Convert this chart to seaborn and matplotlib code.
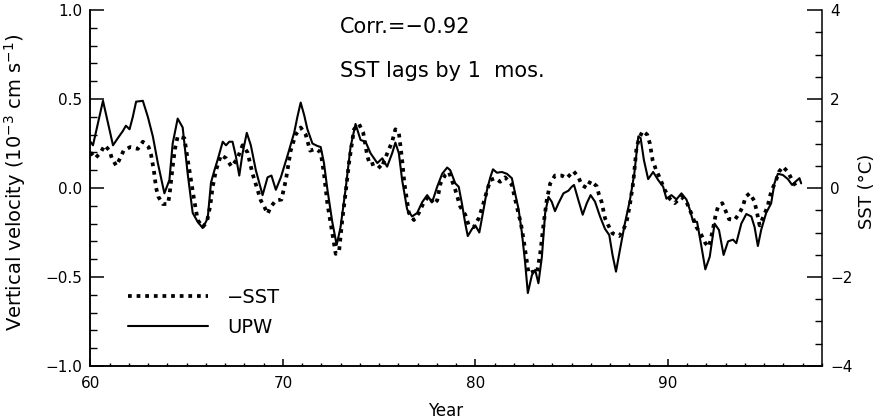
import matplotlib
matplotlib.use("Agg")
import matplotlib.pyplot as plt
import seaborn as sns
from matplotlib.ticker import MultipleLocator

# UPW vertical velocity (1e-3 cm/s)
upw_year = [60.00, 60.13, 60.65, 61.17, 61.42, 61.68, 61.84, 62.03, 62.20, 62.37,
            62.72, 62.98, 63.24, 63.50, 63.84, 64.10, 64.27, 64.53, 64.79, 65.05,
            65.31, 65.57, 65.83, 66.09, 66.26, 66.44, 66.61, 66.87, 67.04, 67.21,
            67.38, 67.55, 67.73, 67.90, 68.12, 68.33, 68.59, 68.94, 69.20, 69.40,
            69.63, 69.89, 70.23, 70.58, 70.75, 70.92, 71.10, 71.27, 71.53, 71.79,
            71.96, 72.13, 72.31, 72.56, 72.79, 72.99, 73.25, 73.51, 73.77, 74.03,
            74.29, 74.55, 74.90, 75.16, 75.41, 75.67, 75.84, 76.02, 76.19, 76.45,
            76.71, 76.97, 77.23, 77.49, 77.75, 78.01, 78.27, 78.53, 78.69, 78.95,
            79.13, 79.30, 79.47, 79.60, 79.82, 79.99, 80.20, 80.42, 80.60, 80.77,
            80.91, 81.11, 81.37, 81.63, 81.89, 82.06, 82.24, 82.41, 82.58, 82.72,
            82.93, 83.10, 83.27, 83.45, 83.62, 83.79, 83.96, 84.13, 84.31, 84.57,
            84.83, 85.00, 85.12, 85.35, 85.57, 85.78, 85.98, 86.21, 86.47, 86.73,
            86.95, 87.12, 87.30, 87.50, 87.76, 88.02, 88.25, 88.46, 88.58, 88.75,
            88.97, 89.23, 89.49, 89.75, 89.92, 90.18, 90.44, 90.70, 90.96, 91.13,
            91.31, 91.51, 91.74, 91.94, 92.17, 92.42, 92.65, 92.89, 93.12, 93.38,
            93.55, 93.81, 94.07, 94.33, 94.50, 94.67, 94.84, 95.10, 95.36, 95.53,
            95.71, 95.97, 96.23, 96.45, 96.62, 96.83, 96.92]
upw = [0.26, 0.24, 0.49, 0.24, 0.28, 0.32, 0.35, 0.33, 0.40, 0.485,
       0.49, 0.40, 0.29, 0.14, -0.03, 0.045, 0.25, 0.39, 0.34, 0.08,
       -0.14, -0.19, -0.225, -0.17, 0.03, 0.10, 0.16, 0.26, 0.24, 0.26,
       0.26, 0.18, 0.07, 0.195, 0.31, 0.24, 0.10, -0.04, 0.06, 0.07,
       -0.01, 0.06, 0.18, 0.31, 0.40, 0.48, 0.41, 0.33, 0.25, 0.236,
       0.23, 0.14, -0.01, -0.19, -0.32, -0.22, -0.01, 0.23, 0.36, 0.27,
       0.26, 0.195, 0.14, 0.167, 0.12, 0.195, 0.255, 0.195, 0.045, -0.12,
       -0.16, -0.14, -0.08, -0.04, -0.08, 0.007, 0.08, 0.115, 0.10, 0.026,
       0.007, -0.09, -0.20, -0.27, -0.23, -0.21, -0.25, -0.12, -0.01, 0.06,
       0.105, 0.086, 0.09, 0.08, 0.055, -0.03, -0.12, -0.25, -0.42, -0.59,
       -0.49, -0.46, -0.535, -0.386, -0.14, -0.05, -0.077, -0.13, -0.086, -0.03,
       -0.015, 0.007, 0.017, -0.07, -0.15, -0.086, -0.04, -0.077, -0.16, -0.23,
       -0.264, -0.376, -0.47, -0.35, -0.20, -0.07, 0.08, 0.29, 0.28, 0.157,
       0.05, 0.09, 0.045, 0.007, -0.06, -0.04, -0.064, -0.03, -0.065, -0.12,
       -0.19, -0.19, -0.33, -0.457, -0.386, -0.20, -0.236, -0.376, -0.30, -0.29,
       -0.31, -0.20, -0.146, -0.16, -0.22, -0.326, -0.236, -0.14, -0.086, 0.026,
       0.08, 0.073, 0.05, 0.017, 0.035, 0.055, 0.026]

# -SST (deg C)
sst_year = [60.00, 60.25, 60.53, 60.74, 60.99, 61.11, 61.34, 61.54, 61.72, 62.06,
            62.46, 62.72, 63.02, 63.15, 63.29, 63.41, 63.53, 63.76, 64.02, 64.10,
            64.27, 64.39, 64.53, 64.88, 65.05, 65.22, 65.36, 65.57, 65.83, 66.05,
            66.22, 66.35, 66.52, 66.78, 67.04, 67.33, 67.64, 67.90, 68.16, 68.42,
            68.68, 68.85, 69.03, 69.20, 69.37, 69.63, 69.92, 70.15, 70.40, 70.66,
            70.92, 71.18, 71.41, 71.70, 71.96, 72.13, 72.31, 72.48, 72.74, 72.91,
            73.08, 73.25, 73.43, 73.69, 73.95, 74.17, 74.38, 74.52, 74.81, 75.10,
            75.38, 75.67, 75.84, 76.02, 76.19, 76.31, 76.54, 76.80, 77.06, 77.32,
            77.58, 77.83, 78.01, 78.18, 78.44, 78.62, 78.95, 79.21, 79.47, 79.65,
            79.91, 80.17, 80.39, 80.56, 80.77, 81.03, 81.28, 81.54, 81.89, 82.15,
            82.36, 82.50, 82.76, 82.98, 83.19, 83.36, 83.53, 83.70, 83.88, 84.13,
            84.48, 84.74, 85.09, 85.35, 85.52, 85.78, 85.98, 86.30, 86.41, 86.55,
            86.73, 86.90, 87.12, 87.47, 87.68, 87.85, 88.02, 88.20, 88.37, 88.51,
            88.68, 88.92, 89.06, 89.20, 89.37, 89.58, 89.83, 90.09, 90.35, 90.70,
            90.96, 91.22, 91.48, 91.74, 91.94, 92.13, 92.31, 92.48, 92.60, 92.82,
            93.00, 93.17, 93.46, 93.72, 93.90, 94.03, 94.24, 94.47, 94.59, 94.76,
            94.96, 95.19, 95.27, 95.41, 95.59, 95.76, 95.97, 96.23, 96.45, 96.66]
minus_sst = [0.80, 0.67, 0.80, 0.96, 0.84, 0.67, 0.50, 0.67, 0.84, 0.92,
             0.88, 1.04, 0.92, 0.74, 0.40, 0.00, -0.20, -0.36, -0.36, -0.18,
             0.48, 0.88, 1.16, 1.12, 0.64, 0.18, -0.20, -0.72, -0.88, -0.76,
             -0.40, 0.03, 0.40, 0.74, 0.67, 0.48, 0.67, 0.96, 0.80, 0.32,
             -0.04, -0.28, -0.42, -0.58, -0.42, -0.28, -0.26, 0.18, 0.84, 1.20,
             1.36, 1.20, 0.84, 0.88, 0.80, 0.32, -0.36, -0.80, -1.48, -1.44,
             -0.72, -0.12, 0.56, 1.32, 1.44, 1.24, 0.72, 0.52, 0.56, 0.44,
             0.74, 1.04, 1.32, 1.24, 0.63, 0.10, -0.56, -0.72, -0.56, -0.32,
             -0.18, -0.36, -0.28, 0.10, 0.30, 0.36, -0.04, -0.42, -0.60, -0.84,
             -0.88, -0.68, -0.38, -0.12, 0.18, 0.22, 0.14, 0.24, 0.07, -0.42,
             -0.80, -1.16, -1.92, -1.88, -1.92, -1.48, -0.84, -0.28, 0.10, 0.28,
             0.28, 0.22, 0.38, 0.24, 0.07, 0.00, 0.16, 0.04, -0.14, -0.31,
             -0.68, -0.84, -1.02, -1.08, -0.94, -0.76, -0.38, 0.14, 0.92, 1.12,
             1.28, 1.20, 1.00, 0.63, 0.42, 0.22, -0.04, -0.24, -0.34, -0.20,
             -0.31, -0.58, -0.88, -1.06, -1.24, -1.32, -0.98, -0.60, -0.42, -0.34,
             -0.52, -0.70, -0.72, -0.56, -0.40, -0.20, -0.12, -0.28, -0.48, -0.84,
             -0.64, -0.40, -0.22, -0.03, 0.14, 0.36, 0.48, 0.36, 0.18, 0.03]

corr_text = "Corr.=\u22120.92"
lag_text = "SST lags by 1  mos."

sns.set_theme(style="ticks")
plt.rcParams["font.family"] = ["DejaVu Sans"]
plt.rcParams.update({
    "axes.linewidth": 1.1,
    "text.color": "black",
    "axes.labelcolor": "black",
    "xtick.color": "black",
    "ytick.color": "black",
    "axes.edgecolor": "black",
})

fig = plt.figure(figsize=(8.75, 4.19), dpi=100)
ax = fig.add_axes([0.1034, 0.1265, 0.836, 0.8496])
ax2 = ax.twinx()

sns.lineplot(x=upw_year, y=upw, ax=ax, color="black", linewidth=1.5, label="UPW", legend=False)
sns.lineplot(x=sst_year, y=minus_sst, ax=ax2, color="black", linewidth=2.7,
             linestyle=(0, (1, 1.3)), label="\u2212SST", legend=False)

ax.set_xlim(60, 98)
ax.set_ylim(-1, 1)
ax2.set_ylim(-4, 4)

ax.xaxis.set_major_locator(MultipleLocator(10))
ax.xaxis.set_minor_locator(MultipleLocator(1))
ax.yaxis.set_major_locator(MultipleLocator(0.5))
ax.yaxis.set_minor_locator(MultipleLocator(0.1))
ax2.yaxis.set_major_locator(MultipleLocator(2))
ax2.yaxis.set_minor_locator(MultipleLocator(0.5))

for a in (ax, ax2):
    a.spines["top"].set_visible(False)
ax.spines["right"].set_visible(False)

ax.tick_params(axis="x", which="major", direction="in", length=5, width=1.1, pad=7, labelsize=11)
ax.tick_params(axis="x", which="minor", direction="in", length=2.5, width=1.0)
ax.tick_params(axis="y", which="major", direction="in", length=10, width=1.1, pad=6, labelsize=11)
ax.tick_params(axis="y", which="minor", direction="in", length=5, width=1.0)
ax2.tick_params(axis="y", which="major", direction="in", length=11, width=1.1, pad=6, labelsize=11)
ax2.tick_params(axis="y", which="minor", direction="in", length=5, width=1.0)

ax.set_xlabel("Year", fontsize=12)
ax.xaxis.set_label_coords(0.485, -0.10)
ax.set_ylabel("Vertical velocity (10$^{-3}$ cm s$^{-1}$)", fontsize=14)
ax.yaxis.set_label_coords(-0.085, 0.515)
ax2.set_ylabel("SST (\u00b0C)", fontsize=13)
ax2.yaxis.set_label_coords(1.049, 0.49)

ax.text(0.341, 0.935, corr_text, transform=ax.transAxes, fontsize=15, va="baseline", ha="left")
ax.text(0.341, 0.812, lag_text, transform=ax.transAxes, fontsize=15, va="baseline", ha="left")

h1, l1 = ax.get_legend_handles_labels()
h2, l2 = ax2.get_legend_handles_labels()
ax2.legend(h2 + h1, l2 + l1, loc="upper left", bbox_to_anchor=(0.0513, 0.219),
           frameon=False, fontsize=14, handlelength=4.1, handletextpad=1.0,
           labelspacing=0.55, borderpad=0, borderaxespad=0)

fig.savefig("out.png", dpi=100)
